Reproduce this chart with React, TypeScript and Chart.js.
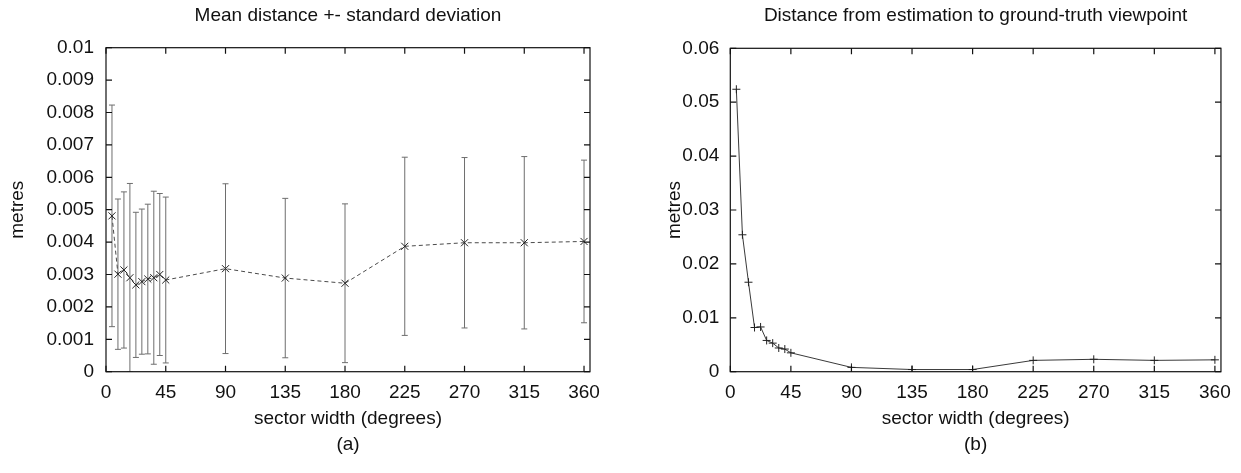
import React, { useEffect, useRef } from "react";
import { Chart, registerables } from "chart.js";

Chart.register(...registerables);

// ---- data ----
const sectorWidths = [4.5, 9, 13.5, 18, 22.5, 27, 31.5, 36, 40.5, 45, 90, 135, 180, 225, 270, 315, 360];
const meanDistance = [0.00481, 0.00301, 0.00314, 0.0029, 0.00268, 0.00278, 0.00286, 0.0029, 0.003, 0.00283, 0.00318, 0.00289, 0.00273, 0.00387, 0.00398, 0.00398, 0.00402];
const stdDeviation = [0.00342, 0.00232, 0.00241, 0.00291, 0.00224, 0.00224, 0.00231, 0.00267, 0.0025, 0.00256, 0.00262, 0.00246, 0.00245, 0.00275, 0.00263, 0.00266, 0.00251];
const viewpointDistance = [0.0524, 0.0254, 0.0166, 0.0082, 0.0083, 0.0058, 0.0053, 0.0044, 0.0042, 0.0035, 0.0008, 0.0004, 0.0004, 0.0021, 0.0023, 0.0021, 0.0022];
const xTickValues = [0, 45, 90, 135, 180, 225, 270, 315, 360];
const leftYTicks = [0, 0.001, 0.002, 0.003, 0.004, 0.005, 0.006, 0.007, 0.008, 0.009, 0.01];
const rightYTicks = [0, 0.01, 0.02, 0.03, 0.04, 0.05, 0.06];

const FONT = "'Liberation Sans', Arial, Helvetica, sans-serif";
const FS = 19;
const LH = 1.2;

const framePlugin = {
  id: "frame",
  afterDatasetsDraw(chart: any) {
    const { ctx, chartArea: a, scales } = chart;
    const x = scales.x;
    const y = scales.y;
    ctx.save();
    ctx.strokeStyle = "#111";
    ctx.lineWidth = 1.2;
    ctx.strokeRect(a.left, a.top, a.right - a.left, a.bottom - a.top);
    const len = 6;
    ctx.beginPath();
    for (const t of x.ticks) {
      const px = x.getPixelForValue(t.value);
      ctx.moveTo(px, a.bottom);
      ctx.lineTo(px, a.bottom - len);
      ctx.moveTo(px, a.top);
      ctx.lineTo(px, a.top + len);
    }
    for (const t of y.ticks) {
      const py = y.getPixelForValue(t.value);
      ctx.moveTo(a.left, py);
      ctx.lineTo(a.left + len, py);
      ctx.moveTo(a.right, py);
      ctx.lineTo(a.right - len, py);
    }
    ctx.stroke();
    ctx.restore();
  },
};

const errorBarPlugin = {
  id: "errorBars",
  beforeDatasetsDraw(chart: any) {
    const { ctx, chartArea: a, scales } = chart;
    const x = scales.x;
    const y = scales.y;
    ctx.save();
    ctx.beginPath();
    ctx.rect(a.left, a.top, a.right - a.left, a.bottom - a.top);
    ctx.clip();
    ctx.strokeStyle = "#6e6e6e";
    ctx.lineWidth = 1;
    ctx.beginPath();
    sectorWidths.forEach((sw, i) => {
      const px = x.getPixelForValue(sw);
      const yHi = y.getPixelForValue(meanDistance[i] + stdDeviation[i]);
      const yLo = y.getPixelForValue(meanDistance[i] - stdDeviation[i]);
      ctx.moveTo(px, yHi);
      ctx.lineTo(px, yLo);
      ctx.moveTo(px - 3, yHi);
      ctx.lineTo(px + 3, yHi);
      ctx.moveTo(px - 3, yLo);
      ctx.lineTo(px + 3, yLo);
    });
    ctx.stroke();
    ctx.restore();
  },
};

function makeOptions(p: {
  title: string;
  caption: string;
  yMax: number;
  yTicks: number[];
  yWidth: number;
  yTitlePad: number;
  yTickPad: number;
  padRight: number;
  chartTop: number;
}) {
  const titleTop = 4.6;
  const lineH = FS * LH;
  const capBottom = 16.6;
  const capTop = 473 - capBottom - lineH;
  const chartBottom = 371.7;
  return {
    responsive: false,
    animation: false,
    layout: { padding: { left: 0, right: p.padRight, top: 0, bottom: 0 } },
    plugins: {
      legend: { display: false },
      tooltip: { enabled: false },
      title: {
        display: true,
        text: p.title,
        fullSize: false,
        color: "#111",
        font: { family: FONT, size: FS, weight: "normal", lineHeight: LH },
        padding: { top: titleTop, bottom: p.chartTop - titleTop - lineH },
      },
      subtitle: {
        display: true,
        text: p.caption,
        position: "bottom",
        fullSize: false,
        color: "#111",
        font: { family: FONT, size: FS, weight: "normal", lineHeight: LH },
        padding: { top: 0, bottom: capBottom },
      },
    },
    scales: {
      x: {
        type: "linear",
        min: 0,
        max: 364.5,
        grid: { display: false, drawTicks: false },
        border: { display: false },
        afterBuildTicks: (s: any) => {
          s.ticks = xTickValues.map((v) => ({ value: v }));
        },
        afterFit: (s: any) => {
          s.height = capTop - chartBottom;
        },
        ticks: {
          color: "#111",
          padding: 10,
          maxRotation: 0,
          autoSkip: false,
          font: { family: FONT, size: FS },
          callback: (v: any) => String(v),
        },
        title: {
          display: true,
          text: "sector width (degrees)",
          color: "#111",
          font: { family: FONT, size: FS, lineHeight: LH },
          padding: { top: 0, bottom: 3.2 },
        },
      },
      y: {
        type: "linear",
        min: 0,
        max: p.yMax,
        grid: { display: false, drawTicks: false },
        border: { display: false },
        afterBuildTicks: (s: any) => {
          s.ticks = p.yTicks.map((v) => ({ value: v }));
        },
        afterFit: (s: any) => {
          s.width = p.yWidth;
        },
        ticks: {
          color: "#111",
          padding: p.yTickPad,
          autoSkip: false,
          font: { family: FONT, size: FS },
          callback: (v: any) => String(v),
        },
        title: {
          display: true,
          text: "metres",
          color: "#111",
          font: { family: FONT, size: FS, lineHeight: LH },
          padding: { top: p.yTitlePad, bottom: 0 },
        },
      },
    },
  };
}

function LeftChart() {
  const ref = useRef<HTMLCanvasElement | null>(null);
  useEffect(() => {
    if (!ref.current) return;
    const chart = new Chart(ref.current, {
      type: "line",
      data: {
        datasets: [
          {
            data: sectorWidths.map((x, i) => ({ x, y: meanDistance[i] })),
            borderColor: "#4a4a4a",
            borderWidth: 1,
            borderDash: [4, 3],
            pointStyle: "crossRot",
            pointRadius: 5,
            pointBorderColor: "#222",
            pointBorderWidth: 1,
            pointBackgroundColor: "#222",
            fill: false,
            tension: 0,
          },
        ],
      },
      options: makeOptions({
        title: "Mean distance +- standard deviation",
        caption: "(a)",
        yMax: 0.01,
        yTicks: leftYTicks,
        yWidth: 106,
        yTitlePad: 6.6,
        yTickPad: 12,
        padRight: 30,
        chartTop: 47.7,
      }) as any,
      plugins: [errorBarPlugin, framePlugin],
    });
    return () => chart.destroy();
  }, []);
  return <canvas ref={ref} width={620} height={473} style={{ display: "block" }} />;
}

function RightChart() {
  const ref = useRef<HTMLCanvasElement | null>(null);
  useEffect(() => {
    if (!ref.current) return;
    const chart = new Chart(ref.current, {
      type: "line",
      data: {
        datasets: [
          {
            data: sectorWidths.map((x, i) => ({ x, y: viewpointDistance[i] })),
            borderColor: "#3a3a3a",
            borderWidth: 1,
            pointStyle: "cross",
            pointRadius: 4,
            pointBorderColor: "#222",
            pointBorderWidth: 1,
            fill: false,
            tension: 0,
          },
        ],
      },
      options: makeOptions({
        title: "Distance from estimation to ground-truth viewpoint",
        caption: "(b)",
        yMax: 0.06,
        yTicks: rightYTicks,
        yWidth: 110.3,
        yTitlePad: 43.2,
        yTickPad: 11,
        padRight: 15.3,
        chartTop: 48.3,
      }) as any,
      plugins: [framePlugin],
    });
    return () => chart.destroy();
  }, []);
  return <canvas ref={ref} width={621} height={473} style={{ display: "block" }} />;
}

export default function App() {
  return (
    <div style={{ position: "absolute", left: 0, top: 0, width: 1241, height: 473, background: "#fff" }}>
      <div style={{ position: "absolute", left: 0, top: 0 }}>
        <LeftChart />
      </div>
      <div style={{ position: "absolute", left: 620, top: 0 }}>
        <RightChart />
      </div>
    </div>
  );
}
